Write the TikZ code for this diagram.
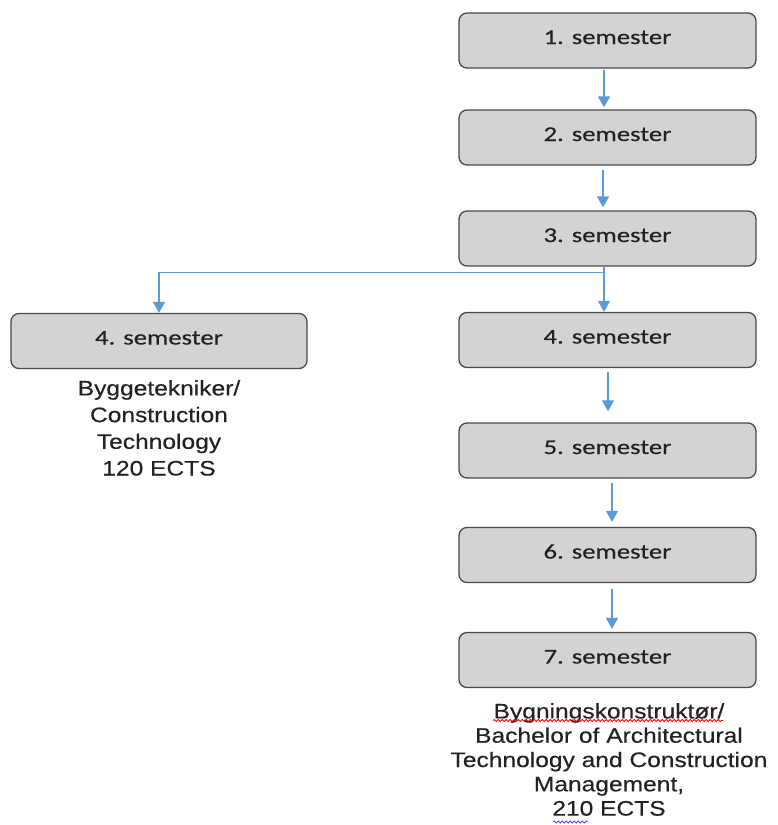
\documentclass[tikz,border=0pt]{standalone}
\usepackage{fontspec}
\usetikzlibrary{arrows.meta,decorations.pathmorphing}
\newfontfamily\boxfont[FakeStretch=1.27,FakeBold=0.5]{Carlito}
\newfontfamily\labelfont[FakeStretch=1.17,FakeBold=0.4]{Liberation Sans}
\definecolor{boxfill}{HTML}{D3D3D3}
\definecolor{boxline}{HTML}{4A4A4A}
\definecolor{arrowblue}{HTML}{5B9BD5}
\definecolor{txt}{HTML}{222222}
\tikzset{
  sembox/.style={rectangle, rounded corners=8pt, draw=boxline, line width=1.3pt,
    fill=boxfill, minimum width=297pt, minimum height=55pt, inner sep=0pt,
    text=txt, font=\boxfont\fontsize{21}{25}\selectfont,
    text height=14pt, text depth=7pt},
  arr/.style={draw=arrowblue, line width=1.4pt,
    -{Triangle[width=12pt,length=11pt]}, arrowblue},
  plain/.style={draw=arrowblue, line width=1.4pt},
  lbl/.style={align=center, inner sep=0pt, text=txt, anchor=north},
  spell/.style={line width=0.8pt, decorate,
    decoration={snake, amplitude=1.1pt, segment length=4pt}}
}
\begin{document}
\begin{tikzpicture}[x=1pt, y=-1pt]
\useasboundingbox (0,0) rectangle (778,825);
% boxes
\node[sembox] (b1) at (607.5,40.5) {1. semester};
\node[sembox] (b2) at (607.5,137.5) {2. semester};
\node[sembox] (b3) at (607.5,238.5) {3. semester};
\node[sembox] (b4) at (607.5,340) {4. semester};
\node[sembox] (b5) at (607.5,450.5) {5. semester};
\node[sembox] (b6) at (607.5,555) {6. semester};
\node[sembox] (b7) at (607.5,660) {7. semester};
\node[sembox, minimum width=296pt] (l4) at (159,341) {4. semester};
% labels
\node[lbl, font=\labelfont\fontsize{21}{26.7}\selectfont] (ll) at (159,380)
  {Byggetekniker/\\Construction\\Technology\\120 ECTS};
\node[lbl, font=\labelfont\fontsize{21}{24.3}\selectfont] (rl) at (609,703)
  {Bygningskonstruktør/\\Bachelor of Architectural\\Technology and Construction\\Management,\\210 ECTS};
% spell-check marks
\draw[spell, red] (493,720.5) -- (723,720.5);
\draw[spell, blue!70!white] (553,822) -- (588,822);
% connectors
\draw[arr] ([xshift=-3.5pt,yshift=-1pt]b1.south) -- ([xshift=-3.5pt,yshift=2pt]b2.north);
\draw[arr] ([xshift=-4.5pt,yshift=-4pt]b2.south) -- ([xshift=-4.5pt,yshift=3pt]b3.north);
\draw[arr] ([xshift=-3.5pt]b3.south) -- ([xshift=-3.5pt]b4.north);
\coordinate (br) at ([xshift=-3.5pt,yshift=-6pt]b3.south);
\draw[plain] ([xshift=-3.5pt]b3.south) -- (br);
\draw[arr] (br) -| (l4.north);
\draw[arr] ([xshift=0.5pt,yshift=-4pt]b4.south) -- ([xshift=0.5pt,yshift=11pt]b5.north);
\draw[arr] ([xshift=4.5pt,yshift=-4pt]b5.south) -- ([xshift=4.5pt,yshift=5pt]b6.north);
\draw[arr] ([xshift=4.5pt,yshift=-6pt]b6.south) -- ([xshift=4.5pt,yshift=3pt]b7.north);
\end{tikzpicture}
\end{document}
